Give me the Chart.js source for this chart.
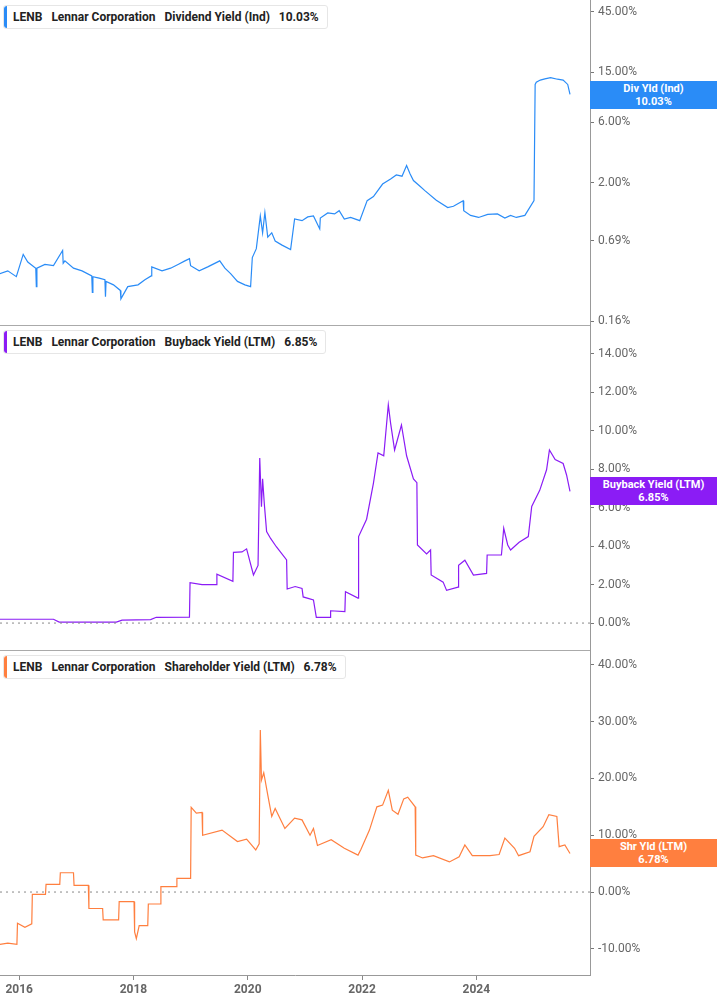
<!DOCTYPE html>
<html>
<head>
<meta charset="utf-8">
<script src="https://cdn.jsdelivr.net/npm/chart.js@4.4.1/dist/chart.umd.min.js"></script>
<style>
  body { margin: 0; width: 717px; height: 1005px; background: #fff; font-family: Roboto, "Liberation Sans", sans-serif; position: relative; overflow: hidden; }
  .panel { position: absolute; left: 0; width: 717px; }
  .legend { position: absolute; left: 3px; top: 5px; background: #fff; border: 1px solid #e6e6e6; border-radius: 3px; padding: 4px 8px 4px 9px; font-size: 12px; font-weight: bold; color: #222; white-space: nowrap; }
  .legend::before { content: ""; position: absolute; left: 0; top: 0; bottom: 0; width: 3px; border-radius: 3px 0 0 3px; background: var(--c); }
  .legend span { margin-right: 9px; }
  .badge { position: absolute; left: 590px; width: 127px; color: #fff; font-size: 11px; font-weight: bold; text-align: center; line-height: 13px; padding: 1px 0; }
  .sep { position: absolute; left: 0; width: 590px; height: 1px; background: #aaa; }
</style>
</head>
<body>
<div class="panel" style="top:0;height:325px"><canvas id="divChart"></canvas></div>
<div class="panel" style="top:325px;height:325px"><canvas id="buyChart"></canvas></div>
<div class="panel" style="top:650px;height:355px"><canvas id="shrChart"></canvas></div>
<div class="sep" style="top:325px"></div>
<div class="sep" style="top:650px"></div>

<div class="legend" style="--c:#2a8cf7;top:5px"><span>LENB</span><span>Lennar Corporation</span><span>Dividend Yield (Ind)</span>10.03%</div>
<div class="legend" style="--c:#8b1cf5;top:330px"><span>LENB</span><span>Lennar Corporation</span><span>Buyback Yield (LTM)</span>6.85%</div>
<div class="legend" style="--c:#ff7f3f;top:655px"><span>LENB</span><span>Lennar Corporation</span><span>Shareholder Yield (LTM)</span>6.78%</div>

<div class="badge" style="top:81px;background:#2a8cf7">Div Yld (Ind)<br>10.03%</div>
<div class="badge" style="top:477px;background:#8b1cf5">Buyback Yield (LTM)<br>6.85%</div>
<div class="badge" style="top:839px;background:#ff7f3f">Shr Yld (LTM)<br>6.78%</div>

<script>
const xMin = 2015.664;
const xMax = 2025.99;
const yearTicks = [2016, 2018, 2020, 2022, 2024];

const divYears = [2015.66, 2015.8, 2015.95, 2016.07, 2016.15, 2016.29, 2016.3, 2016.31, 2016.45, 2016.6, 2016.76, 2016.77, 2016.8, 2016.95, 2017.1, 2017.27, 2017.28, 2017.29, 2017.4, 2017.5, 2017.51, 2017.52, 2017.65, 2017.77, 2017.78, 2017.9, 2018.08, 2018.2, 2018.31, 2018.32, 2018.5, 2018.65, 2018.78, 2018.9, 2018.98, 2019.0, 2019.15, 2019.3, 2019.51, 2019.6, 2019.7, 2019.82, 2019.95, 2020.05, 2020.08, 2020.15, 2020.22, 2020.26, 2020.3, 2020.35, 2020.42, 2020.48, 2020.6, 2020.75, 2020.82, 2020.95, 2021.05, 2021.15, 2021.26, 2021.27, 2021.4, 2021.52, 2021.6, 2021.69, 2021.8, 2021.96, 2022.09, 2022.2, 2022.36, 2022.5, 2022.6, 2022.7, 2022.78, 2022.84, 2022.9, 2023.0, 2023.1, 2023.3, 2023.5, 2023.6, 2023.77, 2023.78, 2023.9, 2024.04, 2024.2, 2024.37, 2024.5, 2024.6, 2024.7, 2024.85, 2025.01, 2025.03, 2025.05, 2025.12, 2025.2, 2025.3, 2025.42, 2025.52, 2025.6, 2025.64];
const divValues = [0.38, 0.4, 0.36, 0.54, 0.47, 0.42, 0.30, 0.42, 0.45, 0.44, 0.58, 0.46, 0.48, 0.42, 0.40, 0.365, 0.27, 0.36, 0.35, 0.34, 0.25, 0.33, 0.31, 0.28, 0.24, 0.30, 0.31, 0.34, 0.365, 0.43, 0.40, 0.42, 0.45, 0.48, 0.50, 0.44, 0.40, 0.43, 0.48, 0.42, 0.38, 0.33, 0.31, 0.30, 0.51, 0.6, 1.09, 0.8, 1.16, 0.74, 0.80, 0.69, 0.64, 0.59, 1.03, 1.0, 1.07, 1.09, 0.86, 1.05, 1.15, 1.13, 1.20, 1.03, 1.06, 1.0, 1.44, 1.55, 1.95, 2.14, 2.3, 2.25, 2.73, 2.35, 2.08, 1.9, 1.73, 1.45, 1.27, 1.30, 1.44, 1.20, 1.10, 1.06, 1.12, 1.13, 1.05, 1.10, 1.06, 1.10, 1.44, 12.0, 12.5, 13.0, 13.3, 13.6, 13.2, 13.0, 12.0, 10.03];

const buyYears = [2015.66, 2016.6, 2016.7, 2017.7, 2017.8, 2018.3, 2018.4, 2018.98, 2018.99, 2019.2, 2019.45, 2019.46, 2019.74, 2019.75, 2019.9, 2019.98, 2020.1, 2020.18, 2020.21, 2020.24, 2020.26, 2020.29, 2020.33, 2020.4, 2020.5, 2020.68, 2020.69, 2020.83, 2020.95, 2020.97, 2021.15, 2021.2, 2021.44, 2021.45, 2021.7, 2021.71, 2021.93, 2021.94, 2022.08, 2022.2, 2022.28, 2022.38, 2022.46, 2022.5, 2022.57, 2022.69, 2022.78, 2022.9, 2022.96, 2022.97, 2023.13, 2023.2, 2023.21, 2023.42, 2023.48, 2023.68, 2023.69, 2023.8, 2023.95, 2024.18, 2024.19, 2024.44, 2024.48, 2024.55, 2024.6, 2024.75, 2024.91, 2024.97, 2025.11, 2025.23, 2025.28, 2025.38, 2025.52, 2025.58, 2025.64];
const buyValues = [0.2, 0.2, 0.05, 0.05, 0.15, 0.18, 0.3, 0.31, 2.1, 2.0, 2.0, 2.54, 2.17, 3.68, 3.7, 3.86, 2.5, 3.0, 8.58, 6.05, 7.5, 6.2, 4.76, 4.4, 3.97, 3.28, 1.77, 1.9, 1.8, 1.36, 1.2, 0.3, 0.3, 0.64, 0.6, 1.63, 1.3, 4.5, 5.4, 7.28, 8.85, 8.7, 11.35, 10.4, 9.0, 10.3, 8.7, 7.5, 7.3, 4.06, 3.6, 3.8, 2.5, 2.13, 1.7, 1.87, 3.0, 3.27, 2.5, 2.58, 3.54, 3.54, 4.93, 4.06, 3.8, 4.2, 4.5, 6.06, 6.9, 7.97, 9.0, 8.5, 8.3, 7.7, 6.85];

const shrYears = [2015.66, 2015.8, 2015.96, 2015.97, 2016.1, 2016.22, 2016.23, 2016.46, 2016.47, 2016.71, 2016.72, 2016.95, 2016.96, 2017.21, 2017.22, 2017.46, 2017.47, 2017.74, 2017.75, 2018.01, 2018.02, 2018.05, 2018.1, 2018.25, 2018.26, 2018.47, 2018.48, 2018.75, 2018.76, 2019.0, 2019.01, 2019.1, 2019.2, 2019.21, 2019.55, 2019.82, 2019.98, 2020.14, 2020.2, 2020.22, 2020.24, 2020.28, 2020.35, 2020.42, 2020.48, 2020.65, 2020.82, 2020.95, 2021.09, 2021.15, 2021.22, 2021.46, 2021.69, 2021.93, 2021.98, 2022.13, 2022.26, 2022.36, 2022.46, 2022.53, 2022.63, 2022.73, 2022.8, 2022.93, 2022.94, 2023.06, 2023.25, 2023.53, 2023.7, 2023.8, 2023.93, 2024.24, 2024.4, 2024.5, 2024.67, 2024.74, 2024.94, 2025.01, 2025.17, 2025.27, 2025.41, 2025.45, 2025.55, 2025.64];
const shrValues = [-9.2, -9.0, -9.2, -5.5, -6.2, -5.6, -0.4, -0.4, 1.35, 1.35, 3.4, 3.4, 1.18, 1.18, -2.9, -2.9, -4.9, -4.9, -1.7, -1.7, -7.0, -8.2, -5.9, -5.9, -2.1, -2.1, 0.94, 0.94, 2.4, 2.4, 14.9, 13.9, 14.0, 10.0, 10.9, 8.9, 9.3, 7.4, 8.5, 28.5, 19.7, 21.0, 17.1, 13.3, 14.7, 11.2, 13.0, 12.7, 10.0, 11.2, 8.2, 9.2, 7.7, 6.5, 7.5, 10.9, 15.0, 15.3, 17.9, 14.4, 13.7, 16.4, 16.7, 15.0, 6.5, 6.0, 6.4, 5.3, 6.2, 8.3, 6.4, 6.4, 6.6, 9.5, 7.7, 6.4, 7.1, 9.8, 11.5, 13.6, 13.3, 8.0, 8.3, 6.78];

const divTicks = [0.16, 0.69, 2, 6, 15, 45];

function toPoints(xs, ys) {
    return xs.map((x, i) => ({ x: x, y: ys[i] }));
}

function rightAxis(extra) {
    return Object.assign({
        position: 'right',
        grid: { drawOnChartArea: false, drawTicks: true, tickLength: 4, tickColor: '#777' },
        border: { display: true, color: '#999' },
        afterFit: (scale) => {
            scale.width = 127;
            scale.paddingTop = 0;
            scale.paddingBottom = 0;
        },
        ticks: {
            color: '#666',
            padding: 4,
            font: { size: 12, family: 'Roboto' },
            callback: (v) => Number(v).toFixed(2) + '%'
        }
    }, extra);
}

function makeChart(id, points, color, yScale, showX) {
    const datasets = [{
        data: points,
        borderColor: color,
        borderWidth: 1.2,
        pointRadius: 0,
        tension: 0
    }];
    if (yScale.type !== 'logarithmic') {
        datasets.unshift({
            data: [{ x: xMin, y: 0 }, { x: xMax, y: 0 }],
            borderColor: '#888',
            borderWidth: 1,
            borderDash: [2, 4],
            pointRadius: 0
        });
    }
    return new Chart(document.getElementById(id), {
        type: 'line',
        data: { datasets: datasets },
        options: {
            responsive: true,
            maintainAspectRatio: false,
            animation: false,
            layout: { padding: 0, autoPadding: false },
            plugins: { legend: { display: false }, tooltip: { enabled: false } },
            scales: {
                x: {
                    type: 'linear',
                    min: xMin,
                    max: xMax,
                    display: showX,
                    afterBuildTicks: (scale) => { scale.ticks = yearTicks.map(v => ({ value: v })); },
                    afterFit: (scale) => {
                        scale.height = showX ? 30 : 0;
                        scale.paddingLeft = 0;
                        scale.paddingRight = 0;
                    },
                    grid: { drawOnChartArea: false, tickLength: 5, tickColor: '#888' },
                    border: { color: '#999' },
                    ticks: {
                        color: '#666',
                        padding: 3,
                        font: { size: 12, weight: 'bold', family: 'Roboto' },
                        callback: (v) => String(v)
                    }
                },
                y: yScale
            }
        }
    });
}

makeChart('divChart', toPoints(divYears, divValues), '#2a8cf7', rightAxis({
    type: 'logarithmic',
    min: 0.149,
    max: 56,
    afterBuildTicks: (scale) => { scale.ticks = divTicks.map(v => ({ value: v })); }
}), false);

makeChart('buyChart', toPoints(buyYears, buyValues), '#8b1cf5', rightAxis({
    type: 'linear',
    min: -1.4,
    max: 15.5,
    afterBuildTicks: (scale) => {
        scale.ticks = [0, 2, 4, 6, 8, 10, 12, 14].map(v => ({ value: v }));
    }
}), false);

makeChart('shrChart', toPoints(shrYears, shrValues), '#ff7f3f', rightAxis({
    type: 'linear',
    min: -14.6,
    max: 42.6,
    afterBuildTicks: (scale) => {
        scale.ticks = [-10, 0, 10, 20, 30, 40].map(v => ({ value: v }));
    }
}), true);
</script>
</body>
</html>
